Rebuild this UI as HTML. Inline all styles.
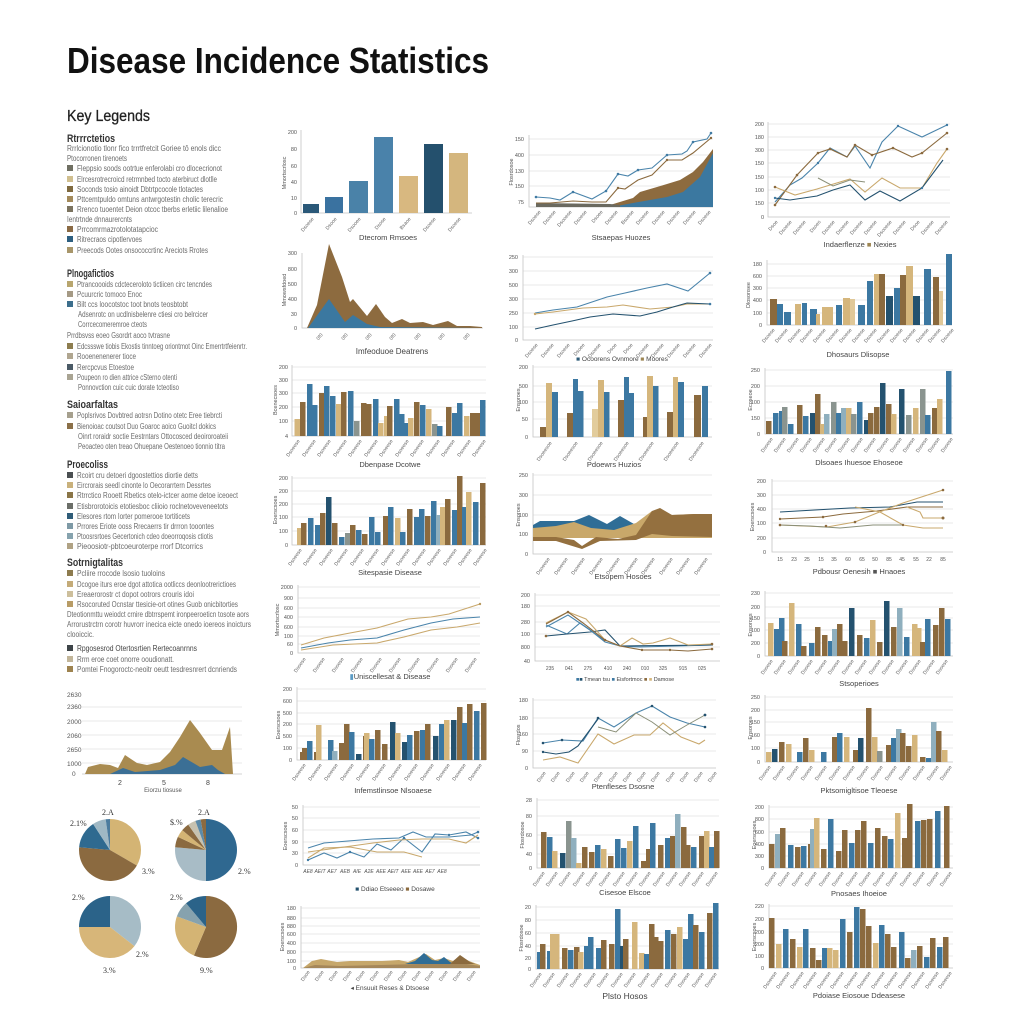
<!DOCTYPE html>
<html><head><meta charset="utf-8"><style>
html,body{margin:0;padding:0;background:#fff;}
svg{display:block}
text{font-family:"Liberation Sans",sans-serif;}
.yl{font-size:5.5px;fill:#555;text-anchor:end}
.xl{font-size:5px;fill:#666;text-anchor:end}
.xn{font-size:5px;fill:#555;text-anchor:middle}
.yt{font-size:5.5px;fill:#555;text-anchor:middle}
.ct{font-size:7.5px;fill:#444;text-anchor:middle}
.lg{font-size:8px;fill:#6b6b6b}
.hd{font-size:11px;font-weight:bold;fill:#333}
.pl{font-family:"Liberation Serif",serif;font-size:8px;fill:#333}
.gr{stroke:#e4e4e4;stroke-width:0.8;fill:none}
.ax{stroke:#c4c4c4;stroke-width:0.8;fill:none}
.b{fill:#3c78a2}.n{fill:#24526f}.l{fill:#8fafbe}.t{fill:#d5b67c}.r{fill:#8b6a3e}.k{fill:#9d8552}.g{fill:#8a948f}
.sb{stroke:#4a84ab;stroke-width:1.1;fill:none}
.sn{stroke:#24526f;stroke-width:1.1;fill:none}
.st{stroke:#c9a86c;stroke-width:1.1;fill:none}
.sr{stroke:#8b6a3e;stroke-width:1.1;fill:none}
.sg{stroke:#8a8f78;stroke-width:1;fill:none}
</style></head><body>
<svg width="1024" height="1024" viewBox="0 0 1024 1024" xmlns="http://www.w3.org/2000/svg">
<rect width="1024" height="1024" fill="#fff"/>

<!-- Title -->
<text x="67" y="73" font-size="36" font-weight="bold" fill="#111" textLength="422" lengthAdjust="spacingAndGlyphs">Disease Incidence Statistics</text>
<text x="67" y="121" font-size="15.5" fill="#222" stroke="#222" stroke-width="0.3" textLength="83" lengthAdjust="spacingAndGlyphs">Key Legends</text>

<!-- Legend -->
<g>
<text class="hd" x="67" y="142" textLength="48" lengthAdjust="spacingAndGlyphs">Rtrrrctetios</text>
<text class="lg" x="67" y="151" textLength="154" lengthAdjust="spacingAndGlyphs">Rrrlcionotio tlonr fico trrrtfretcit Goriee tô enols dicc</text>
<text class="lg" x="67" y="161" textLength="60" lengthAdjust="spacingAndGlyphs">Ptocorronen tirenoets</text>
<rect x="67" y="165" width="6" height="6" fill="#6f6f62"/><text class="lg" x="77" y="171" textLength="145" lengthAdjust="spacingAndGlyphs">Fleppsio soods ootrtue enferolabi cro dlocecrionot</text>
<rect x="67" y="176" width="6" height="6" fill="#d0bf8f"/><text class="lg" x="77" y="182" textLength="140" lengthAdjust="spacingAndGlyphs">Elrcesrotrecroicd retrmnbed tocto aterbiruct dlotlle</text>
<rect x="67" y="186" width="6" height="6" fill="#7f6a3f"/><text class="lg" x="77" y="192" textLength="126" lengthAdjust="spacingAndGlyphs">Soconds tosio ainoidt Dbtrtpcocole tlotactes</text>
<rect x="67" y="196" width="6" height="6" fill="#a38a5a"/><text class="lg" x="77" y="202" textLength="146" lengthAdjust="spacingAndGlyphs">Pttcemtpuldo omtuns antwrgotestin cholic terecric</text>
<rect x="67" y="206" width="6" height="6" fill="#7b735f"/><text class="lg" x="77" y="212" textLength="151" lengthAdjust="spacingAndGlyphs">Rrenco tuoentet Deion otcoc tberbs erletiic lilenalioe</text>
<text class="lg" x="67" y="222" textLength="65" lengthAdjust="spacingAndGlyphs">Ientrtnde dnnaurercnts</text>
<rect x="67" y="226" width="6" height="6" fill="#8a6a44"/><text class="lg" x="77" y="232" textLength="81" lengthAdjust="spacingAndGlyphs">Prrcomrmazrotolotatapcioc</text>
<rect x="67" y="236" width="6" height="6" fill="#2d5f80"/><text class="lg" x="77" y="242" textLength="65" lengthAdjust="spacingAndGlyphs">Ritrecraos cipotlervoes</text>
<rect x="67" y="247" width="6" height="6" fill="#a8966a"/><text class="lg" x="77" y="253" textLength="131" lengthAdjust="spacingAndGlyphs">Preecods Ootes onsococcrtinc Areciots Rrotes</text>

<text class="hd" x="67" y="277" textLength="47" lengthAdjust="spacingAndGlyphs">Plnogafictios</text>
<rect x="67" y="281" width="6" height="6" fill="#b8a66e"/><text class="lg" x="77" y="287" textLength="135" lengthAdjust="spacingAndGlyphs">Ptrancoooids cdcteceroloto tictiicen circ tencndes</text>
<rect x="67" y="291" width="6" height="6" fill="#a59a85"/><text class="lg" x="77" y="297" textLength="65" lengthAdjust="spacingAndGlyphs">Pcuurcric tomoco Enoc</text>
<rect x="67" y="301" width="6" height="6" fill="#3c6e8c"/><text class="lg" x="77" y="307" textLength="111" lengthAdjust="spacingAndGlyphs">Bilt ccs loocotstoc toot bnots teosbtobt</text>
<text class="lg" x="78" y="317" textLength="130" lengthAdjust="spacingAndGlyphs">Adsenrotc on ucdlnisbelenre ctiesi cro belrcicer</text>
<text class="lg" x="78" y="327" textLength="69" lengthAdjust="spacingAndGlyphs">Corrcecomeremroe cteots</text>
<text class="lg" x="67" y="338" textLength="103" lengthAdjust="spacingAndGlyphs">Prrdbsvss eoeo Gsordrt aoco tvtrasne</text>
<rect x="67" y="343" width="6" height="6" fill="#8d7d4f"/><text class="lg" x="77" y="349" textLength="170" lengthAdjust="spacingAndGlyphs">Edcssswe tiobis Ekostis tinntoeg oriontmot Oinc Emerrtrtfeienrtr.</text>
<rect x="67" y="353" width="6" height="6" fill="#b0a690"/><text class="lg" x="77" y="359" textLength="59" lengthAdjust="spacingAndGlyphs">Rooenenenerer tioce</text>
<rect x="67" y="364" width="6" height="6" fill="#4a5a66"/><text class="lg" x="77" y="370" textLength="57" lengthAdjust="spacingAndGlyphs">Rercpcvus Etoestoe</text>
<rect x="67" y="374" width="6" height="6" fill="#a9a493"/><text class="lg" x="77" y="380" textLength="100" lengthAdjust="spacingAndGlyphs">Poupeon ro dien attrice cSterno otenti</text>
<text class="lg" x="78" y="390" textLength="101" lengthAdjust="spacingAndGlyphs">Ponnovction cuic cuic dorate tcteotiso</text>

<text class="hd" x="67" y="408" textLength="51" lengthAdjust="spacingAndGlyphs">Saioarfaltas</text>
<rect x="67" y="412" width="6" height="6" fill="#a6a08e"/><text class="lg" x="77" y="418" textLength="145" lengthAdjust="spacingAndGlyphs">Poplsrivos Dovbtred aotrsn Dotino otetc Eree tiebrcti</text>
<rect x="67" y="423" width="6" height="6" fill="#8b7048"/><text class="lg" x="77" y="429" textLength="139" lengthAdjust="spacingAndGlyphs">Bienoioac coutsot Duo Goaroc aoico Guoitcl dokics</text>
<text class="lg" x="78" y="439" textLength="150" lengthAdjust="spacingAndGlyphs">Oinrt roraidr soctie Eestrntars Ottocosced deoiroroateii</text>
<text class="lg" x="78" y="449" textLength="147" lengthAdjust="spacingAndGlyphs">Peoacteo oten treao Ohuepane Oestenoeo tionnio titra</text>

<text class="hd" x="67" y="468" textLength="41" lengthAdjust="spacingAndGlyphs">Proecoliss</text>
<rect x="67" y="472" width="6" height="6" fill="#4a4f52"/><text class="lg" x="77" y="478" textLength="121" lengthAdjust="spacingAndGlyphs">Rcoirt cru detoeri dgoostettios diortie detts</text>
<rect x="67" y="482" width="6" height="6" fill="#c9b17c"/><text class="lg" x="77" y="488" textLength="134" lengthAdjust="spacingAndGlyphs">Eircrorais seedl cinonte lo Oecorarrtern Dessrtes</text>
<rect x="67" y="492" width="6" height="6" fill="#8a7547"/><text class="lg" x="77" y="498" textLength="161" lengthAdjust="spacingAndGlyphs">Rtrrctico Rooett Rbetics otelo-ictcer aome detoe iceoect</text>
<rect x="67" y="503" width="6" height="6" fill="#6b6e68"/><text class="lg" x="77" y="509" textLength="151" lengthAdjust="spacingAndGlyphs">Etisbrorotoicis etotiesboc cliioio roclnetoveveneetots</text>
<rect x="67" y="513" width="6" height="6" fill="#2f5c78"/><text class="lg" x="77" y="519" textLength="113" lengthAdjust="spacingAndGlyphs">Elesores rtom Iorter pomerooe tortiticets</text>
<rect x="67" y="523" width="6" height="6" fill="#7e9aa6"/><text class="lg" x="77" y="529" textLength="137" lengthAdjust="spacingAndGlyphs">Prrores Eriote ooss Rrecaerrs tir drrron tooontes</text>
<rect x="67" y="533" width="6" height="6" fill="#86a3ae"/><text class="lg" x="77" y="539" textLength="136" lengthAdjust="spacingAndGlyphs">Ptoosrsrtoes Gecertonich cdeo doeorroqosis ctiotis</text>
<rect x="67" y="543" width="6" height="6" fill="#b0a284"/><text class="lg" x="77" y="549" textLength="126" lengthAdjust="spacingAndGlyphs">Pieoosiotr-pbtcoeuroterpe rrorf Dtcorrics</text>

<text class="hd" x="67" y="566" textLength="56" lengthAdjust="spacingAndGlyphs">Sotrnigtalitas</text>
<rect x="67" y="570" width="6" height="6" fill="#8d7b4e"/><text class="lg" x="77" y="576" textLength="88" lengthAdjust="spacingAndGlyphs">Pcliire rrocode lsosio tuoloins</text>
<rect x="67" y="581" width="6" height="6" fill="#c4ab78"/><text class="lg" x="77" y="587" textLength="159" lengthAdjust="spacingAndGlyphs">Dcogoe iturs eroe dgot attotica ootliccs deonlootrerictioes</text>
<rect x="67" y="591" width="6" height="6" fill="#cdbf9c"/><text class="lg" x="77" y="597" textLength="117" lengthAdjust="spacingAndGlyphs">Ereaerorostr ct dopot ootrors crouris idoi</text>
<rect x="67" y="601" width="6" height="6" fill="#b89c66"/><text class="lg" x="77" y="607" textLength="161" lengthAdjust="spacingAndGlyphs">Rsocoruted Ocnstar ttesicie-ort otines Guob onicbitorties</text>
<text class="lg" x="67" y="617" textLength="182" lengthAdjust="spacingAndGlyphs">Dteotionmttu weiodct crnire dbtrrspemt ironpeeroeticn tosote aors</text>
<text class="lg" x="67" y="627" textLength="184" lengthAdjust="spacingAndGlyphs">Arrorustrctrn corotr huvrorr inecica eicte onedo ioereos inoicturs</text>
<text class="lg" x="67" y="637" textLength="27" lengthAdjust="spacingAndGlyphs">clooiccic.</text>
<rect x="67" y="645" width="6" height="6" fill="#3d4448"/><text class="lg" x="77" y="651" fill="#444" style="fill:#444" textLength="120" lengthAdjust="spacingAndGlyphs">Rpgosesrod Otertosrtien Rertecoanrnns</text>
<rect x="67" y="656" width="6" height="6" fill="#c2b69a"/><text class="lg" x="77" y="662" textLength="97" lengthAdjust="spacingAndGlyphs">Rrm eroe coet onorre ooudionatt.</text>
<rect x="67" y="666" width="6" height="6" fill="#9e834f"/><text class="lg" x="77" y="672" textLength="160" lengthAdjust="spacingAndGlyphs">Pomtei Fnogoroctc-neoitr oeutt tesdresnrert dcnriends</text>
</g>

<!-- Left area chart -->
<g>
<path class="gr" d="M82 707H242M82 721H242M82 735H242M82 749H242M82 763H242"/>
<path class="ax" d="M82 774H242"/>
<g style="font-size:6.5px;fill:#555">
<text x="67" y="697">2630</text><text x="67" y="709">2360</text><text x="67" y="724">2000</text><text x="67" y="738">2060</text><text x="67" y="752">2650</text><text x="67" y="766">1000</text><text x="72" y="776">0</text>
</g>
<polygon fill="#a98b50" points="85,774 88,767 100,764 110,765 118,768 125,755 137,763 147,765 160,762 170,752 180,737 190,720 200,733 212,750 222,750 230,727 233,774"/>
<polygon fill="#3b6f95" points="110,774 123,768 135,772 160,770 175,765 183,757 195,764 200,767 212,765 218,770 225,774"/>
<text x="120" y="785" font-size="7" fill="#444" text-anchor="middle">2</text>
<text x="164" y="785" font-size="7" fill="#444" text-anchor="middle">5</text>
<text x="208" y="785" font-size="7" fill="#444" text-anchor="middle">8</text>
<text x="163" y="792" font-size="6" fill="#555" text-anchor="middle">Eiorzu tiosuse</text>
</g>

<!-- Pies -->
<g>
<path fill="#d4b474" d="M110 850L110 819A31 31 0 0 1 136.85 865.5Z"/>
<path fill="#8b6a40" d="M110 850L136.85 865.5A31 31 0 0 1 79.12 847.3Z"/>
<path fill="#2f6a90" d="M110 850L79.12 847.3A31 31 0 0 1 93.12 824Z"/>
<path fill="#9fb8c4" d="M110 850L93.12 824A31 31 0 0 1 105.69 819.3Z"/>
<path fill="#4c7c9e" d="M110 850L105.69 819.3A31 31 0 0 1 110 819Z"/>
<text class="pl" x="102" y="815">2.A</text><text class="pl" x="70" y="826">2.1%</text><text class="pl" x="142" y="874">3.%</text>

<path fill="#2f6890" d="M206 850L206 819A31 31 0 0 1 206 881Z"/>
<path fill="#a8bcc6" d="M206 850L206 881A31 31 0 0 1 175.12 847.3Z"/>
<path fill="#8b6a40" d="M206 850L175.12 847.3A31 31 0 0 1 177.9 836.9Z"/>
<path fill="#d4b474" d="M206 850L177.9 836.9A31 31 0 0 1 182.25 830.1Z"/>
<path fill="#8b6a40" d="M206 850L182.25 830.1A31 31 0 0 1 188.22 824.6Z"/>
<path fill="#c7c2b0" d="M206 850L188.22 824.6A31 31 0 0 1 195.4 820.9Z"/>
<path fill="#5b8aa8" d="M206 850L195.4 820.9A31 31 0 0 1 200.62 819.5Z"/>
<path fill="#8b6a40" d="M206 850L200.62 819.5A31 31 0 0 1 206 819Z"/>
<text class="pl" x="198" y="815">2.A</text><text class="pl" x="170" y="825">$.%</text><text class="pl" x="238" y="874">2.%</text>

<path fill="#a6bcc6" d="M110 927L110 896A31 31 0 0 1 134.43 946.1Z"/>
<path fill="#d7b679" d="M110 927L134.43 946.1A31 31 0 0 1 79 927Z"/>
<path fill="#2b6389" d="M110 927L79 927A31 31 0 0 1 110 896Z"/>
<text class="pl" x="72" y="900">2.%</text><text class="pl" x="136" y="957">2.%</text><text class="pl" x="103" y="973">3.%</text>

<path fill="#8b6a40" d="M206 927L206 896A31 31 0 1 1 193.89 955.5Z"/>
<path fill="#d4b474" d="M206 927L193.89 955.5A31 31 0 0 1 176.87 916.4Z"/>
<path fill="#86a2ae" d="M206 927L176.87 916.4A31 31 0 0 1 186.07 903.3Z"/>
<path fill="#2b6389" d="M206 927L186.07 903.3A31 31 0 0 1 206 896Z"/>
<text class="pl" x="170" y="900">2.%</text><text class="pl" x="200" y="973">9.%</text>
</g>

<!-- C1R1 bar -->
<g>
<path class="ax" d="M301 130V213H472"/>
<text class="yl" x="297" y="134">200</text><text class="yl" x="297" y="151">80</text><text class="yl" x="297" y="168">60</text><text class="yl" x="297" y="184">40</text><text class="yl" x="297" y="200">10</text><text class="yl" x="297" y="215">0</text>
<text class="yt" transform="rotate(-90 286 173)" x="286" y="173">Mmortscrlosc</text>
<rect x="303" y="204" width="16" height="9" fill="#2a5878"/>
<rect x="325" y="197" width="18" height="16" fill="#3a72a0"/>
<rect x="349" y="181" width="19" height="32" fill="#4a82a8"/>
<rect x="374" y="137" width="19" height="76" fill="#4a82aa"/>
<rect x="399" y="176" width="19" height="37" fill="#d8b880"/>
<rect x="424" y="144" width="19" height="69" fill="#24506d"/>
<rect x="449" y="153" width="19" height="60" fill="#d4b67e"/>
<g class="xl">
<text x="314" y="219" transform="rotate(-50 314 219)">Dsoese</text><text x="337" y="219" transform="rotate(-50 337 219)">Dsooe</text><text x="361" y="219" transform="rotate(-50 361 219)">Dsooee</text><text x="386" y="219" transform="rotate(-50 386 219)">Dsose</text><text x="411" y="219" transform="rotate(-50 411 219)">Bsaoe</text><text x="436" y="219" transform="rotate(-50 436 219)">Dsoese</text><text x="461" y="219" transform="rotate(-50 461 219)">Dsoese</text>
</g>
<text class="ct" x="388" y="240">Dtecrom Rmsoes</text>
</g>

<!-- C1R2 area -->
<g>
<path class="ax" d="M302 253V328H483"/>
<text class="yl" x="297" y="255">300</text><text class="yl" x="297" y="271">800</text><text class="yl" x="297" y="286">500</text><text class="yl" x="297" y="301">400</text><text class="yl" x="297" y="316">30</text><text class="yl" x="297" y="330">0</text>
<text class="yt" transform="rotate(-90 286 290)" x="286" y="290">Mmowsfdoed</text>
<polygon fill="#8d6b3f" points="307,328 317,305 329,244 342,277 350,302 353,299 367,316 376,304 385,317 392,323 402,319 410,323 423,322 433,325 448,321 457,326 470,326 482,327 482,328"/>
<polygon fill="#3b78a0" points="308,328 329,299 345,322 353,315 367,324 380,327 482,328"/>
<g class="xl">
<text x="323" y="335" transform="rotate(-50 323 335)">0f0</text><text x="348" y="335" transform="rotate(-50 348 335)">0f0</text><text x="372" y="335" transform="rotate(-50 372 335)">0f0</text><text x="396" y="335" transform="rotate(-50 396 335)">0f0</text><text x="421" y="335" transform="rotate(-50 421 335)">0f0</text><text x="445" y="335" transform="rotate(-50 445 335)">0f0</text><text x="470" y="335" transform="rotate(-50 470 335)">0f0</text>
</g>
<text class="ct" x="392" y="354" style="font-size:8px">Imfeoduoe Deatrens</text>
</g>

<!-- C2R1 line/area -->
<g>
<path class="gr" d="M529 139H713M529 155H713M529 171H713M529 186H713"/>
<path class="ax" d="M529 135V207H713"/>
<text class="yl" x="524" y="141">150</text><text class="yl" x="524" y="157">400</text><text class="yl" x="524" y="173">130</text><text class="yl" x="524" y="188">150</text><text class="yl" x="524" y="204">75</text>
<text class="yt" transform="rotate(-90 513 172)" x="513" y="172">Flosrdosoe</text>
<polygon fill="#8d6b3f" points="536,207 536,205 610,205 633,198 640,192 657,187 667,184 680,180 693,172 703,162 713,149 713,207"/>
<polygon fill="#3b78a0" points="536,207 617,206 633,203 667,197 683,192 700,177 713,153 713,207"/>
<polygon fill="#6b6a60" points="536,207 536,203 610,204 620,205 620,207"/>
<polyline class="sb" points="536,197 550,198 560,200 573,192 592,199 606,191 618,174 628,176 638,170 652,168 667,155 682,154 687,151 693,142 707,139 711,133"/>
<polyline class="sr" points="536,203 550,203 573,201 592,202 606,202 618,188 625,189 638,180 652,175 667,160 682,160 693,153 711,138"/>
<g fill="#3f7aa3"><circle cx="536" cy="197" r="1.3"/><circle cx="573" cy="192" r="1.3"/><circle cx="606" cy="191" r="1.3"/><circle cx="618" cy="174" r="1.3"/><circle cx="638" cy="170" r="1.3"/><circle cx="667" cy="155" r="1.3"/><circle cx="693" cy="142" r="1.3"/><circle cx="711" cy="133" r="1.3"/></g>
<g fill="#8b6a3e"><circle cx="618" cy="188" r="1.2"/><circle cx="667" cy="160" r="1.2"/><circle cx="711" cy="138" r="1.2"/></g>
<g class="xl">
<text x="541" y="212" transform="rotate(-50 541 212)">Dsoese</text><text x="556" y="212" transform="rotate(-50 556 212)">Dsoese</text><text x="572" y="212" transform="rotate(-50 572 212)">Dsooese</text><text x="587" y="212" transform="rotate(-50 587 212)">Dsoese</text><text x="603" y="212" transform="rotate(-50 603 212)">Dsoee</text><text x="618" y="212" transform="rotate(-50 618 212)">Dsoese</text><text x="634" y="212" transform="rotate(-50 634 212)">Bsoese</text><text x="649" y="212" transform="rotate(-50 649 212)">Dsoese</text><text x="665" y="212" transform="rotate(-50 665 212)">Dsoese</text><text x="680" y="212" transform="rotate(-50 680 212)">Dsoese</text><text x="696" y="212" transform="rotate(-50 696 212)">Dsoese</text><text x="711" y="212" transform="rotate(-50 711 212)">Dsoese</text>
</g>
<text class="ct" x="621" y="240">Stsaepas Huozes</text>
</g>

<!-- C3R1 lines -->
<g>
<path class="gr" d="M768 124H950M768 137H950M768 150H950M768 163H950M768 177H950M768 190H950M768 203H950"/>
<path class="ax" d="M768 122V217H950"/>
<text class="yl" x="764" y="126">200</text><text class="yl" x="764" y="139">180</text><text class="yl" x="764" y="152">300</text><text class="yl" x="764" y="165">150</text><text class="yl" x="764" y="179">150</text><text class="yl" x="764" y="192">100</text><text class="yl" x="764" y="205">150</text><text class="yl" x="764" y="219">0</text>
<polyline class="sb" points="775,202 790,185 802,178 818,163 830,148 847,157 855,146 870,168 882,142 898,126 922,137 947,125"/>
<polyline class="sr" points="775,205 797,175 818,153 830,149 847,157 855,145 872,155 893,148 912,157 922,153 947,133"/>
<polyline class="st" points="775,187 795,195 817,189 850,179 865,192 882,178 900,188 922,188 937,163 947,149"/>
<polyline class="sn" points="775,198 790,200 817,196 833,190 850,185 865,200 880,191 900,201 922,188 943,160"/>
<polyline class="sg" points="818,178 833,186 850,180 865,182"/>
<g fill="#8b6a3e"><circle cx="775" cy="205" r="1.3"/><circle cx="797" cy="175" r="1.3"/><circle cx="818" cy="153" r="1.3"/><circle cx="830" cy="149" r="1.3"/><circle cx="855" cy="145" r="1.3"/><circle cx="872" cy="155" r="1.3"/><circle cx="893" cy="148" r="1.3"/><circle cx="922" cy="153" r="1.3"/><circle cx="947" cy="133" r="1.3"/><circle cx="775" cy="187" r="1.3"/><circle cx="947" cy="149" r="1.3"/></g>
<g fill="#3f7aa3"><circle cx="775" cy="198" r="1.2"/><circle cx="818" cy="163" r="1.2"/><circle cx="898" cy="126" r="1.2"/><circle cx="947" cy="125" r="1.2"/><circle cx="922" cy="188" r="1.2"/></g>
<g class="xl">
<text x="778" y="222" transform="rotate(-50 778 222)">Dsoe</text><text x="792" y="222" transform="rotate(-50 792 222)">Dsoese</text><text x="806" y="222" transform="rotate(-50 806 222)">Dsoese</text><text x="821" y="222" transform="rotate(-50 821 222)">Dsoes</text><text x="835" y="222" transform="rotate(-50 835 222)">Dsoese</text><text x="849" y="222" transform="rotate(-50 849 222)">Dsoese</text><text x="863" y="222" transform="rotate(-50 863 222)">Dsoese</text><text x="877" y="222" transform="rotate(-50 877 222)">Dsoese</text><text x="892" y="222" transform="rotate(-50 892 222)">Dsooese</text><text x="906" y="222" transform="rotate(-50 906 222)">Dsoese</text><text x="920" y="222" transform="rotate(-50 920 222)">Dsoe</text><text x="934" y="222" transform="rotate(-50 934 222)">Dsoese</text><text x="948" y="222" transform="rotate(-50 948 222)">Dsoese</text>
</g>
<text class="ct" x="860" y="247">Indaerflenze <tspan fill="#9d8552">■</tspan> Nexies</text>
</g>

<!-- C2R2 lines -->
<g>
<path class="gr" d="M523 257H713M523 271H713M523 285H713M523 299H713M523 313H713M523 327H713"/>
<path class="ax" d="M523 255V340H713"/>
<text class="yl" x="518" y="259">250</text><text class="yl" x="518" y="273">300</text><text class="yl" x="518" y="287">500</text><text class="yl" x="518" y="301">300</text><text class="yl" x="518" y="315">250</text><text class="yl" x="518" y="329">100</text><text class="yl" x="518" y="342">0</text>
<polyline class="sb" points="535,313 553,310 577,307 592,302 607,297 625,293 647,288 667,284 688,291 710,273"/>
<polyline class="st" points="535,314 553,312 583,308 607,307 623,305 650,309 673,307 687,304 710,304"/>
<polyline class="sn" points="535,329 553,325 572,321 590,317 613,314 640,316 657,312 673,307 687,303 710,304"/>
<g fill="#3f7aa3"><circle cx="710" cy="273" r="1.3"/><circle cx="710" cy="304" r="1.3"/></g>
<circle cx="535" cy="314" r="1.2" fill="#c9a86c"/>
<g class="xl">
<text x="538" y="345" transform="rotate(-50 538 345)">Dsoese</text><text x="554" y="345" transform="rotate(-50 554 345)">Dsoese</text><text x="570" y="345" transform="rotate(-50 570 345)">Dsoese</text><text x="585" y="345" transform="rotate(-50 585 345)">Dsoee</text><text x="601" y="345" transform="rotate(-50 601 345)">Dsoese</text><text x="617" y="345" transform="rotate(-50 617 345)">Dsoe</text><text x="633" y="345" transform="rotate(-50 633 345)">Dsoe</text><text x="649" y="345" transform="rotate(-50 649 345)">Dsoese</text><text x="664" y="345" transform="rotate(-50 664 345)">Dsoese</text><text x="680" y="345" transform="rotate(-50 680 345)">Dsoese</text><text x="696" y="345" transform="rotate(-50 696 345)">Dsoese</text><text x="712" y="345" transform="rotate(-50 712 345)">Dsoese</text>
</g>
<text class="ct" x="622" y="361" style="font-size:6.5px"><tspan fill="#2f5c78">■</tspan> Ocoorens Ovnmore <tspan fill="#9d8552">■</tspan> Moores</text>
</g>

<!-- C3R2 bars -->
<g>
<path class="gr" d="M767 264H952M767 276H952M767 288H952M767 300H952M767 313H952"/>
<path class="ax" d="M767 260V325H952"/>
<text class="yl" x="762" y="266">180</text><text class="yl" x="762" y="278">600</text><text class="yl" x="762" y="290">300</text><text class="yl" x="762" y="302">400</text><text class="yl" x="762" y="315">100</text><text class="yl" x="762" y="327">0</text>
<text class="yt" transform="rotate(-90 750 295)" x="750" y="295">Dlosonsee</text>
<rect class="r" x="770" y="299" width="7" height="26"/><rect class="b" x="777" y="304" width="6" height="21"/><rect class="b" x="784" y="312" width="7" height="13"/><rect class="t" x="795" y="304" width="6" height="21"/><rect class="b" x="802" y="303" width="5" height="22"/><rect class="b" x="810" y="309" width="7" height="16"/><rect class="t" x="816" y="314" width="4" height="11"/><rect class="t" x="822" y="307" width="6" height="18"/><rect class="t" x="828" y="307" width="5" height="18"/><rect class="b" x="836" y="305" width="6" height="20"/><rect class="t" x="843" y="298" width="7" height="27"/><rect x="850" y="299" width="5" height="26" fill="#e0c898"/><rect class="b" x="858" y="305" width="7" height="20"/><rect class="b" x="867" y="281" width="6" height="44"/><rect class="t" x="874" y="274" width="6" height="51"/><rect class="r" x="879" y="274" width="6" height="51"/><rect class="n" x="886" y="296" width="7" height="29"/><rect class="b" x="894" y="288" width="7" height="37"/><rect class="r" x="900" y="275" width="7" height="50"/><rect class="t" x="906" y="266" width="7" height="59"/><rect class="n" x="913" y="296" width="7" height="29"/><rect class="b" x="924" y="269" width="7" height="56"/><rect class="r" x="933" y="277" width="6" height="48"/><rect x="939" y="291" width="4" height="34" fill="#e0c898"/><rect class="b" x="946" y="254" width="6" height="71"/>
<g class="xl">
<text x="775" y="330" transform="rotate(-50 775 330)">Dsoese</text><text x="788" y="330" transform="rotate(-50 788 330)">Dsoese</text><text x="801" y="330" transform="rotate(-50 801 330)">Dsoese</text><text x="813" y="330" transform="rotate(-50 813 330)">Dsoese</text><text x="826" y="330" transform="rotate(-50 826 330)">Dsoese</text><text x="839" y="330" transform="rotate(-50 839 330)">Dsoese</text><text x="852" y="330" transform="rotate(-50 852 330)">Dsoese</text><text x="865" y="330" transform="rotate(-50 865 330)">Dsoese</text><text x="877" y="330" transform="rotate(-50 877 330)">Dsoese</text><text x="890" y="330" transform="rotate(-50 890 330)">Dsoese</text><text x="903" y="330" transform="rotate(-50 903 330)">Dsoese</text><text x="916" y="330" transform="rotate(-50 916 330)">Dsoese</text><text x="929" y="330" transform="rotate(-50 929 330)">Dsoese</text><text x="941" y="330" transform="rotate(-50 941 330)">Dsoese</text><text x="954" y="330" transform="rotate(-50 954 330)">Dsoese</text>
</g>
<text class="ct" x="858" y="357">Dhosaurs Dlisopse</text>
</g>

<!-- C1R3 bars -->
<g>
<path class="gr" d="M292 367H486M292 380H486M292 393H486M292 407H486M292 421H486"/>
<path class="ax" d="M292 365V436H486"/>
<text class="yl" x="288" y="369">200</text><text class="yl" x="288" y="382">300</text><text class="yl" x="288" y="395">300</text><text class="yl" x="288" y="409">200</text><text class="yl" x="288" y="423">100</text><text class="yl" x="288" y="438">4</text>
<text class="yt" transform="rotate(-90 277 400)" x="277" y="400">Bcenecsoes</text>
<rect class="t" x="294.5" y="419" width="5.5" height="17"/><rect class="r" x="300" y="402" width="5.5" height="34"/><rect class="b" x="307" y="384" width="5.5" height="52"/><rect class="b" x="312" y="405" width="5.5" height="31"/><rect class="r" x="319" y="393" width="5.5" height="43"/><rect class="b" x="324" y="386" width="5.5" height="50"/><rect class="b" x="330" y="396" width="5.5" height="40"/><rect class="t" x="336" y="404" width="5.5" height="32"/><rect class="r" x="341" y="392" width="5.5" height="44"/><rect class="b" x="348" y="391" width="5.5" height="45"/><rect class="g" x="354" y="421" width="5.5" height="15"/><rect class="r" x="361" y="403" width="5.5" height="33"/><rect class="r" x="366" y="404" width="5.5" height="32"/><rect class="b" x="373" y="399" width="5.5" height="37"/><rect class="t" x="378" y="423" width="5.5" height="13"/><rect class="t" x="384" y="416" width="5.5" height="20"/><rect class="r" x="387" y="406" width="5.5" height="30"/><rect class="b" x="394" y="399" width="5.5" height="37"/><rect class="b" x="399" y="414" width="5.5" height="22"/><rect class="b" x="404" y="423" width="5.5" height="13"/><rect class="t" x="408" y="418" width="5.5" height="18"/><rect class="r" x="414" y="402" width="5.5" height="34"/><rect class="b" x="420" y="405" width="5.5" height="31"/><rect class="t" x="426" y="409" width="5.5" height="27"/><rect class="g" x="432" y="424" width="5.5" height="12"/><rect class="b" x="437" y="426" width="5.5" height="10"/><rect class="r" x="446" y="407" width="5.5" height="29"/><rect class="b" x="452" y="413" width="5.5" height="23"/><rect class="b" x="457" y="403" width="5.5" height="33"/><rect class="t" x="464" y="416" width="5.5" height="20"/><rect class="r" x="470" y="413" width="5.5" height="23"/><rect class="r" x="475" y="413" width="5.5" height="23"/><rect class="b" x="480" y="400" width="5.5" height="36"/>
<g class="xl">
<text x="300" y="441" transform="rotate(-55 300 441)">Dsoeese</text><text x="316" y="441" transform="rotate(-55 316 441)">Dsoeese</text><text x="331" y="441" transform="rotate(-55 331 441)">Dsoeese</text><text x="347" y="441" transform="rotate(-55 347 441)">Dsoeese</text><text x="362" y="441" transform="rotate(-55 362 441)">Dsoeese</text><text x="378" y="441" transform="rotate(-55 378 441)">Dsoeese</text><text x="393" y="441" transform="rotate(-55 393 441)">Dsoeese</text><text x="409" y="441" transform="rotate(-55 409 441)">Dsoeese</text><text x="424" y="441" transform="rotate(-55 424 441)">Dsoeese</text><text x="440" y="441" transform="rotate(-55 440 441)">Dsoeese</text><text x="455" y="441" transform="rotate(-55 455 441)">Dsoeese</text><text x="471" y="441" transform="rotate(-55 471 441)">Dsoeese</text><text x="486" y="441" transform="rotate(-55 486 441)">Dsoeese</text>
</g>
<text class="ct" x="390" y="467">Dbenpase Dcotwe</text>
</g>

<!-- C2R3 bars -->
<g>
<path class="gr" d="M533 367H712M533 386H712M533 402H712M533 419H712"/>
<path class="ax" d="M533 365V437H712"/>
<text class="yl" x="528" y="369">200</text><text class="yl" x="528" y="388">500</text><text class="yl" x="528" y="404">100</text><text class="yl" x="528" y="421">50</text><text class="yl" x="528" y="439">0</text>
<text class="yt" transform="rotate(-90 520 400)" x="520" y="400">Ensoroes</text>
<rect class="r" x="540" y="427" width="6" height="10"/><rect class="t" x="546" y="383" width="6" height="54"/><rect class="b" x="552" y="392" width="6" height="45"/>
<rect class="r" x="567" y="413" width="6" height="24"/><rect class="b" x="573" y="379" width="5" height="58"/><rect class="b" x="578" y="391" width="5.5" height="46"/>
<rect x="592" y="409" width="6" height="28" fill="#e2cc9c"/><rect class="t" x="598" y="380" width="6" height="57"/><rect class="b" x="604" y="392" width="5.5" height="45"/>
<rect class="r" x="618" y="400" width="6" height="37"/><rect class="b" x="624" y="377" width="5" height="60"/><rect class="b" x="628" y="393" width="6" height="44"/>
<rect class="r" x="643" y="417" width="5" height="20"/><rect class="t" x="647" y="376" width="6" height="61"/><rect class="b" x="653" y="386" width="5.5" height="51"/>
<rect class="r" x="667" y="412" width="6" height="25"/><rect class="t" x="673" y="377" width="5" height="60"/><rect class="b" x="678" y="382" width="6" height="55"/>
<rect class="r" x="694" y="395" width="7" height="42"/><rect class="b" x="702" y="386" width="6" height="51"/>
<g class="xl">
<text x="552" y="443" transform="rotate(-55 552 443)">Dsoeesoe</text><text x="578" y="443" transform="rotate(-55 578 443)">Dsoeesoe</text><text x="603" y="443" transform="rotate(-55 603 443)">Dsoeesoe</text><text x="629" y="443" transform="rotate(-55 629 443)">Dsoeesoe</text><text x="654" y="443" transform="rotate(-55 654 443)">Dsoeesoe</text><text x="679" y="443" transform="rotate(-55 679 443)">Dsoeesoe</text><text x="704" y="443" transform="rotate(-55 704 443)">Dsoeesoe</text>
</g>
<text class="ct" x="614" y="467">Pdoewrs Huzios</text>
</g>

<!-- C3R3 bars -->
<g>
<path class="gr" d="M765 370H953M765 386H953M765 402H953M765 418H953"/>
<path class="ax" d="M765 368V434H953"/>
<text class="yl" x="760" y="372">250</text><text class="yl" x="760" y="388">200</text><text class="yl" x="760" y="404">100</text><text class="yl" x="760" y="420">150</text><text class="yl" x="760" y="436">0</text>
<text class="yt" transform="rotate(-90 752 400)" x="752" y="400">Ecoseoe</text>
<rect class="r" x="766" y="421" width="5.5" height="13"/><rect class="b" x="773" y="413" width="5.5" height="21"/><rect class="b" x="779" y="411" width="5.5" height="23"/><rect class="g" x="782" y="407" width="5.5" height="27"/><rect class="b" x="788" y="424" width="5.5" height="10"/><rect class="r" x="797" y="405" width="5.5" height="29"/><rect class="b" x="803" y="416" width="5.5" height="18"/><rect class="n" x="810" y="413" width="5.5" height="21"/><rect class="r" x="815" y="394" width="5.5" height="40"/><rect class="t" x="820" y="424" width="5.5" height="10"/><rect class="l" x="824" y="414" width="5.5" height="20"/><rect class="g" x="831" y="402" width="5.5" height="32"/><rect class="b" x="836" y="413" width="5.5" height="21"/><rect class="l" x="841" y="408" width="5.5" height="26"/><rect class="t" x="846" y="408" width="5.5" height="26"/><rect class="g" x="851" y="414" width="5.5" height="20"/><rect class="b" x="857" y="402" width="5.5" height="32"/><rect class="n" x="864" y="420" width="5.5" height="14"/><rect class="r" x="868" y="413" width="5.5" height="21"/><rect class="r" x="874" y="407" width="5.5" height="27"/><rect class="n" x="880" y="383" width="5.5" height="51"/><rect class="r" x="886" y="404" width="5.5" height="30"/><rect class="t" x="891" y="414" width="5.5" height="20"/><rect class="n" x="899" y="389" width="5.5" height="45"/><rect class="g" x="906" y="415" width="5.5" height="19"/><rect class="t" x="913" y="408" width="5.5" height="26"/><rect class="g" x="920" y="389" width="5.5" height="45"/><rect class="b" x="925" y="415" width="5.5" height="19"/><rect class="r" x="932" y="408" width="5.5" height="26"/><rect class="t" x="937" y="399" width="5.5" height="35"/><rect class="b" x="946" y="371" width="5.5" height="63"/>
<g class="xl">
<text x="773" y="439" transform="rotate(-55 773 439)">Dsoese</text><text x="786" y="439" transform="rotate(-55 786 439)">Dsoese</text><text x="799" y="439" transform="rotate(-55 799 439)">Dsoese</text><text x="812" y="439" transform="rotate(-55 812 439)">Dsoese</text><text x="825" y="439" transform="rotate(-55 825 439)">Dsoese</text><text x="837" y="439" transform="rotate(-55 837 439)">Dsoese</text><text x="850" y="439" transform="rotate(-55 850 439)">Dsoese</text><text x="863" y="439" transform="rotate(-55 863 439)">Dsoese</text><text x="876" y="439" transform="rotate(-55 876 439)">Dsoese</text><text x="889" y="439" transform="rotate(-55 889 439)">Dsoese</text><text x="902" y="439" transform="rotate(-55 902 439)">Dsoese</text><text x="915" y="439" transform="rotate(-55 915 439)">Dsoese</text><text x="928" y="439" transform="rotate(-55 928 439)">Dsoese</text><text x="940" y="439" transform="rotate(-55 940 439)">Dsoese</text><text x="953" y="439" transform="rotate(-55 953 439)">Dsoese</text>
</g>
<text class="ct" x="859" y="465">Dlsoaes Ihuesoe Ehoseoe</text>
</g>

<!-- C1R4 bars -->
<g>
<path class="gr" d="M292 478H486M292 491H486M292 504H486M292 517H486M292 531H486"/>
<path class="ax" d="M292 476V545H486"/>
<text class="yl" x="288" y="480">200</text><text class="yl" x="288" y="493">200</text><text class="yl" x="288" y="506">200</text><text class="yl" x="288" y="519">100</text><text class="yl" x="288" y="533">100</text><text class="yl" x="288" y="547">0</text>
<text class="yt" transform="rotate(-90 277 510)" x="277" y="510">Eoerscsoes</text>
<rect class="t" x="297" y="528" width="5.5" height="17"/><rect class="r" x="301" y="523" width="5.5" height="22"/><rect class="b" x="308" y="518" width="5.5" height="27"/><rect class="b" x="315" y="525" width="5.5" height="20"/><rect class="r" x="320" y="513" width="5.5" height="32"/><rect class="n" x="326" y="497" width="5.5" height="48"/><rect class="r" x="332" y="523" width="5.5" height="22"/><rect class="b" x="339" y="537" width="5.5" height="8"/><rect class="g" x="345" y="533" width="5.5" height="12"/><rect class="r" x="350" y="525" width="5.5" height="20"/><rect class="b" x="356" y="530" width="5.5" height="15"/><rect class="r" x="362" y="534" width="5.5" height="11"/><rect class="b" x="369" y="517" width="5.5" height="28"/><rect class="b" x="375" y="532" width="5.5" height="13"/><rect class="r" x="383" y="516" width="5.5" height="29"/><rect class="b" x="388" y="507" width="5.5" height="38"/><rect class="t" x="395" y="518" width="5.5" height="27"/><rect class="b" x="400" y="532" width="5.5" height="13"/><rect class="r" x="407" y="509" width="5.5" height="36"/><rect class="b" x="414" y="517" width="5.5" height="28"/><rect class="b" x="419" y="509" width="5.5" height="36"/><rect class="r" x="425" y="516" width="5.5" height="29"/><rect class="b" x="431" y="501" width="5.5" height="44"/><rect class="l" x="436" y="515" width="5.5" height="30"/><rect class="t" x="440" y="507" width="5.5" height="38"/><rect class="r" x="445" y="499" width="5.5" height="46"/><rect class="b" x="452" y="510" width="5.5" height="35"/><rect class="r" x="457" y="476" width="5.5" height="69"/><rect class="b" x="462" y="507" width="5.5" height="38"/><rect class="t" x="466" y="492" width="5.5" height="53"/><rect class="b" x="473" y="502" width="5.5" height="43"/><rect class="r" x="480" y="483" width="5.5" height="62"/>
<g class="xl">
<text x="302" y="550" transform="rotate(-55 302 550)">Dsoeese</text><text x="317" y="550" transform="rotate(-55 317 550)">Dsoeese</text><text x="333" y="550" transform="rotate(-55 333 550)">Dsoeese</text><text x="348" y="550" transform="rotate(-55 348 550)">Dsoeese</text><text x="364" y="550" transform="rotate(-55 364 550)">Dsoeese</text><text x="379" y="550" transform="rotate(-55 379 550)">Dsoeese</text><text x="395" y="550" transform="rotate(-55 395 550)">Dsoeese</text><text x="410" y="550" transform="rotate(-55 410 550)">Dsoeese</text><text x="426" y="550" transform="rotate(-55 426 550)">Dsoeese</text><text x="441" y="550" transform="rotate(-55 441 550)">Dsoeese</text><text x="457" y="550" transform="rotate(-55 457 550)">Dsoeese</text><text x="472" y="550" transform="rotate(-55 472 550)">Dsoeese</text><text x="487" y="550" transform="rotate(-55 487 550)">Dsoeese</text>
</g>
<text class="ct" x="390" y="575">Sitespasie Disease</text>
</g>

<!-- C2R4 stream -->
<g>
<path class="gr" d="M533 475H712M533 495H712M533 515H712M533 534H712"/>
<path class="ax" d="M533 473V554H712"/>
<text class="yl" x="528" y="477">250</text><text class="yl" x="528" y="497">300</text><text class="yl" x="528" y="517">100</text><text class="yl" x="528" y="536">100</text><text class="yl" x="528" y="556">0</text>
<text class="yt" transform="rotate(-90 520 515)" x="520" y="515">Ensoroes</text>
<polygon fill="#2f6d96" points="533,525 540,521 574,521 589,515 607,524 620,516 634,524 650,524 650,538 533,538"/>
<polygon fill="#c9a86a" points="533,528 556,526 574,522 591,528 614,530 636,523 652,511 672,515 694,514 712,514 712,538 533,538"/>
<polygon fill="#94703f" points="533,537 556,537 574,540 582,546 596,537 618,539 636,535 652,511 660,508 672,515 694,514 712,514 712,537 672,536 652,534 636,540 600,541 582,549 556,541 533,541"/>
<g class="xl">
<text x="550" y="559" transform="rotate(-55 550 559)">Dsoeese</text><text x="568" y="559" transform="rotate(-55 568 559)">Dsoeese</text><text x="585" y="559" transform="rotate(-55 585 559)">Dsoeese</text><text x="603" y="559" transform="rotate(-55 603 559)">Dsoeese</text><text x="620" y="559" transform="rotate(-55 620 559)">Dsoeese</text><text x="638" y="559" transform="rotate(-55 638 559)">Dsoeese</text><text x="655" y="559" transform="rotate(-55 655 559)">Dsoeese</text><text x="673" y="559" transform="rotate(-55 673 559)">Dsoeese</text><text x="690" y="559" transform="rotate(-55 690 559)">Dsoeese</text><text x="708" y="559" transform="rotate(-55 708 559)">Dsoeese</text>
</g>
<text class="ct" x="623" y="579">Etsopem Hosoes</text>
</g>

<!-- C3R4 lines -->
<g>
<path class="gr" d="M772 481H953M772 495H953M772 509H953M772 523H953M772 538H953"/>
<path class="ax" d="M772 479V552H953"/>
<text class="yl" x="766" y="483">200</text><text class="yl" x="766" y="497">300</text><text class="yl" x="766" y="511">400</text><text class="yl" x="766" y="525">100</text><text class="yl" x="766" y="540">200</text><text class="yl" x="766" y="554">0</text>
<text class="yt" transform="rotate(-90 754 517)" x="754" y="517">Eoerscsoes</text>
<polyline class="sn" points="780,512 850,508 890,507 917,502 943,502"/>
<polyline class="sr" points="780,519 823,517 843,514 877,511 907,507 943,507"/>
<polyline class="st" points="780,525 827,527 855,522 877,513 903,503 943,490"/>
<polyline class="sg" points="780,525 810,526 840,528 873,525 903,525"/>
<polyline class="st" points="855,507 880,512 903,525 923,528 943,528"/>
<polyline class="st" points="907,507 920,512 923,518 943,518"/>
<g fill="#8b6a3e"><circle cx="780" cy="525" r="1.3"/><circle cx="823" cy="517" r="1.3"/><circle cx="826" cy="526" r="1.3"/><circle cx="855" cy="522" r="1.3"/><circle cx="943" cy="490" r="1.3"/><circle cx="943" cy="518" r="1.5"/><circle cx="780" cy="519" r="1.2"/><circle cx="903" cy="525" r="1.2"/></g>
<g class="xn">
<text x="780" y="561">15</text><text x="794" y="561">23</text><text x="807" y="561">25</text><text x="821" y="561">15</text><text x="834" y="561">35</text><text x="848" y="561">60</text><text x="862" y="561">65</text><text x="875" y="561">50</text><text x="889" y="561">85</text><text x="902" y="561">45</text><text x="916" y="561">55</text><text x="929" y="561">22</text><text x="943" y="561">85</text>
</g>
<text class="ct" x="859" y="574">Pdbousr Oenesih <tspan fill="#555">■</tspan> Hnaoes</text>
</g>

<!-- C1R5 lines -->
<g>
<path class="gr" d="M298 587H480M298 598H480M298 608H480M298 617H480M298 627H480M298 636H480M298 644H480"/>
<path class="ax" d="M298 585V653H480"/>
<text class="yl" x="293" y="589">2000</text><text class="yl" x="293" y="600">900</text><text class="yl" x="293" y="610">600</text><text class="yl" x="293" y="619">400</text><text class="yl" x="293" y="629">600</text><text class="yl" x="293" y="638">100</text><text class="yl" x="293" y="646">60</text><text class="yl" x="293" y="655">0</text>
<text class="yt" transform="rotate(-90 279 620)" x="279" y="620">Mmortscrlosc</text>
<polyline class="st" points="301,645 324,638 350,633 377,628 408,619 431,617 449,614 480,604"/>
<polyline class="sb" points="301,648 328,643 350,640 377,638 404,630 431,623 453,619 480,617"/>
<polyline class="st" points="301,650 333,645 377,643 404,637 431,630 457,627 480,623"/>
<circle cx="480" cy="604" r="1.2" fill="#b99a60"/>
<g class="xl">
<text x="306" y="659" transform="rotate(-55 306 659)">Dsoese</text><text x="325" y="659" transform="rotate(-55 325 659)">Dsoese</text><text x="344" y="659" transform="rotate(-55 344 659)">Dsoese</text><text x="363" y="659" transform="rotate(-55 363 659)">Dsoese</text><text x="382" y="659" transform="rotate(-55 382 659)">Dsoese</text><text x="401" y="659" transform="rotate(-55 401 659)">Dsoese</text><text x="420" y="659" transform="rotate(-55 420 659)">Dsoese</text><text x="439" y="659" transform="rotate(-55 439 659)">Dsoese</text><text x="458" y="659" transform="rotate(-55 458 659)">Dsoese</text><text x="477" y="659" transform="rotate(-55 477 659)">Dsoese</text>
</g>
<text class="ct" x="390" y="679"><tspan fill="#5b9bc4">▮</tspan>Uniscellesat &amp; Disease</text>
</g>

<!-- C2R5 lines -->
<g>
<path class="gr" d="M535 595H720M535 606H720M535 622H720M535 634H720M535 647H720"/>
<path class="ax" d="M535 593V661H720"/>
<text class="yl" x="530" y="597">200</text><text class="yl" x="530" y="608">180</text><text class="yl" x="530" y="624">280</text><text class="yl" x="530" y="636">100</text><text class="yl" x="530" y="649">800</text><text class="yl" x="530" y="663">40</text>
<polyline class="sb" points="546,625 567,634 580,623 590,630 605,642 620,646 640,647 713,645"/>
<polyline class="sn" points="546,636 567,634 590,632 605,630 620,646 713,645"/>
<polyline class="sb" points="546,627 568,615 590,630 605,641"/>
<polyline class="st" points="546,623 568,612 586,619 605,640 620,646 632,638 643,644 653,643 670,638 688,645 712,644"/>
<polyline class="sr" points="546,624 568,612 583,623 605,640 620,646 642,650 670,650 688,651 712,649"/>
<g fill="#8b6a3e"><circle cx="546" cy="636" r="1.3"/><circle cx="568" cy="612" r="1.3"/><circle cx="605" cy="640" r="1.3"/><circle cx="642" cy="650" r="1.2"/><circle cx="670" cy="650" r="1.2"/><circle cx="712" cy="649" r="1.3"/><circle cx="712" cy="644" r="1.3"/></g>
<g class="xn">
<text x="550" y="670">235</text><text x="569" y="670">041</text><text x="588" y="670">275</text><text x="608" y="670">410</text><text x="627" y="670">240</text><text x="645" y="670">010</text><text x="663" y="670">325</text><text x="683" y="670">915</text><text x="702" y="670">025</text>
</g>
<text x="576" y="681" font-size="5.5" fill="#444"><tspan fill="#3c78a2">■</tspan><tspan fill="#24526f">■</tspan> Tmean tsu <tspan fill="#3c78a2">■</tspan> Eisfortmoc <tspan fill="#8b6a3e">■</tspan> <tspan fill="#d5b67c">■</tspan> Damose</text>
</g>

<!-- C3R5 bars -->
<g>
<path class="gr" d="M765 593H953M765 607H953M765 618H953M765 630H953M765 643H953"/>
<path class="ax" d="M765 591V656H953"/>
<text class="yl" x="760" y="595">230</text><text class="yl" x="760" y="609">200</text><text class="yl" x="760" y="620">150</text><text class="yl" x="760" y="632">100</text><text class="yl" x="760" y="645">200</text><text class="yl" x="760" y="658">0</text>
<text class="yt" transform="rotate(-90 752 625)" x="752" y="625">Ensoroes</text>
<rect class="t" x="768" y="623" width="5.5" height="33"/><rect class="b" x="774" y="629" width="5.5" height="27"/><rect class="b" x="779" y="618" width="5.5" height="38"/><rect class="r" x="782" y="641" width="5.5" height="15"/><rect class="t" x="789" y="603" width="5.5" height="53"/><rect class="b" x="796" y="624" width="5.5" height="32"/><rect class="r" x="801" y="646" width="5.5" height="10"/><rect class="b" x="809" y="643" width="5.5" height="13"/><rect class="r" x="815" y="627" width="5.5" height="29"/><rect class="r" x="822" y="635" width="5.5" height="21"/><rect class="b" x="828" y="641" width="5.5" height="15"/><rect class="l" x="832" y="629" width="5.5" height="27"/><rect class="r" x="837" y="624" width="5.5" height="32"/><rect class="r" x="842" y="641" width="5.5" height="15"/><rect class="n" x="849" y="608" width="5.5" height="48"/><rect class="r" x="857" y="635" width="5.5" height="21"/><rect class="b" x="864" y="638" width="5.5" height="18"/><rect class="t" x="870" y="620" width="5.5" height="36"/><rect class="r" x="877" y="642" width="5.5" height="14"/><rect class="n" x="884" y="601" width="5.5" height="55"/><rect class="r" x="891" y="627" width="5.5" height="29"/><rect class="l" x="897" y="608" width="5.5" height="48"/><rect class="b" x="904" y="637" width="5.5" height="19"/><rect class="t" x="912" y="624" width="5.5" height="32"/><rect class="t" x="916" y="628" width="5.5" height="28"/><rect class="r" x="920" y="642" width="5.5" height="14"/><rect class="b" x="925" y="619" width="5.5" height="37"/><rect class="r" x="933" y="625" width="5.5" height="31"/><rect class="r" x="939" y="608" width="5.5" height="48"/><rect class="b" x="945" y="619" width="5.5" height="37"/>
<g class="xl">
<text x="773" y="661" transform="rotate(-55 773 661)">Dsoese</text><text x="786" y="661" transform="rotate(-55 786 661)">Dsoese</text><text x="800" y="661" transform="rotate(-55 800 661)">Dsoese</text><text x="813" y="661" transform="rotate(-55 813 661)">Dsoese</text><text x="827" y="661" transform="rotate(-55 827 661)">Dsoese</text><text x="840" y="661" transform="rotate(-55 840 661)">Dsoese</text><text x="854" y="661" transform="rotate(-55 854 661)">Dsoese</text><text x="867" y="661" transform="rotate(-55 867 661)">Dsoese</text><text x="881" y="661" transform="rotate(-55 881 661)">Dsoese</text><text x="894" y="661" transform="rotate(-55 894 661)">Dsoese</text><text x="908" y="661" transform="rotate(-55 908 661)">Dsoese</text><text x="921" y="661" transform="rotate(-55 921 661)">Dsoese</text><text x="935" y="661" transform="rotate(-55 935 661)">Dsoese</text><text x="948" y="661" transform="rotate(-55 948 661)">Dsoese</text>
</g>
<text class="ct" x="859" y="686">Stsoperioes</text>
</g>

<!-- C1R6 bars -->
<g>
<path class="gr" d="M297 689H486M297 701H486M297 713H486M297 724H486M297 736H486M297 748H486"/>
<path class="ax" d="M297 687V760H486"/>
<text class="yl" x="292" y="691">200</text><text class="yl" x="292" y="703">600</text><text class="yl" x="292" y="715">500</text><text class="yl" x="292" y="726">200</text><text class="yl" x="292" y="738">500</text><text class="yl" x="292" y="750">100</text><text class="yl" x="292" y="762">0</text>
<text class="yt" transform="rotate(-90 280 725)" x="280" y="725">Eoerscsoes</text>
<rect class="r" x="300" y="752" width="5.5" height="8"/><rect class="r" x="302" y="748" width="5.5" height="12"/><rect class="b" x="307" y="741" width="5.5" height="19"/><rect class="r" x="314" y="752" width="5.5" height="8"/><rect class="t" x="316" y="725" width="5.5" height="35"/><rect class="b" x="328" y="740" width="5.5" height="20"/><rect class="l" x="332" y="751" width="5.5" height="9"/><rect class="r" x="339" y="743" width="5.5" height="17"/><rect class="r" x="344" y="724" width="5.5" height="36"/><rect class="b" x="349" y="732" width="5.5" height="28"/><rect class="n" x="356" y="754" width="5.5" height="6"/><rect class="r" x="363" y="736" width="5.5" height="24"/><rect class="t" x="364" y="733" width="5.5" height="27"/><rect class="b" x="369" y="739" width="5.5" height="21"/><rect class="r" x="375" y="730" width="5.5" height="30"/><rect class="r" x="382" y="744" width="5.5" height="16"/><rect class="n" x="390" y="722" width="5.5" height="38"/><rect class="t" x="395" y="733" width="5.5" height="27"/><rect class="n" x="402" y="742" width="5.5" height="18"/><rect class="b" x="407" y="735" width="5.5" height="25"/><rect class="r" x="414" y="731" width="5.5" height="29"/><rect class="b" x="420" y="730" width="5.5" height="30"/><rect class="r" x="425" y="724" width="5.5" height="36"/><rect class="n" x="433" y="736" width="5.5" height="24"/><rect class="b" x="439" y="724" width="5.5" height="36"/><rect class="t" x="444" y="720" width="5.5" height="40"/><rect class="n" x="451" y="720" width="5.5" height="40"/><rect class="r" x="457" y="707" width="5.5" height="53"/><rect class="b" x="462" y="723" width="5.5" height="37"/><rect class="r" x="467" y="704" width="5.5" height="56"/><rect class="b" x="474" y="711" width="5.5" height="49"/><rect class="r" x="481" y="703" width="5.5" height="57"/>
<g class="xl">
<text x="306" y="765" transform="rotate(-55 306 765)">Dsoeese</text><text x="322" y="765" transform="rotate(-55 322 765)">Dsoeese</text><text x="338" y="765" transform="rotate(-55 338 765)">Dsoeese</text><text x="354" y="765" transform="rotate(-55 354 765)">Dsoeese</text><text x="370" y="765" transform="rotate(-55 370 765)">Dsoeese</text><text x="386" y="765" transform="rotate(-55 386 765)">Dsoeese</text><text x="402" y="765" transform="rotate(-55 402 765)">Dsoeese</text><text x="418" y="765" transform="rotate(-55 418 765)">Dsoeese</text><text x="434" y="765" transform="rotate(-55 434 765)">Dsoeese</text><text x="450" y="765" transform="rotate(-55 450 765)">Dsoeese</text><text x="466" y="765" transform="rotate(-55 466 765)">Dsoeese</text><text x="482" y="765" transform="rotate(-55 482 765)">Dsoeese</text>
</g>
<text class="ct" x="393" y="793">Infemstlinsoe Nlsoaese</text>
</g>

<!-- C2R6 lines -->
<g>
<path class="gr" d="M533 700H716M533 718H716M533 734H716M533 751H716"/>
<path class="ax" d="M533 698V768H716"/>
<text class="yl" x="528" y="702">180</text><text class="yl" x="528" y="720">180</text><text class="yl" x="528" y="736">160</text><text class="yl" x="528" y="753">90</text><text class="yl" x="528" y="770">0</text>
<text class="yt" transform="rotate(-90 520 735)" x="520" y="735">Flosrdos</text>
<polyline class="sb" points="543,743 562,740 583,741 598,718 614,727 636,713 652,706 670,717 687,723 705,727"/>
<polyline class="sn" points="543,752 556,754 569,752 578,746 598,719"/>
<polyline class="st" points="543,760 560,757 578,763 598,734 614,744 634,735 650,735 663,723 681,737 699,744 705,740"/>
<polyline class="sg" points="598,727 616,732 636,713 652,722 670,735 687,725 705,715"/>
<g fill="#24526f"><circle cx="543" cy="743" r="1.3"/><circle cx="562" cy="740" r="1.3"/><circle cx="598" cy="718" r="1.3"/><circle cx="652" cy="706" r="1.3"/><circle cx="705" cy="715" r="1.4"/><circle cx="705" cy="727" r="1.3"/><circle cx="543" cy="752" r="1.2"/></g>
<g class="xl">
<text x="546" y="773" transform="rotate(-55 546 773)">Dsoe</text><text x="560" y="773" transform="rotate(-55 560 773)">Dsoe</text><text x="575" y="773" transform="rotate(-55 575 773)">Dsoe</text><text x="589" y="773" transform="rotate(-55 589 773)">Dsoe</text><text x="603" y="773" transform="rotate(-55 603 773)">Dsoe</text><text x="618" y="773" transform="rotate(-55 618 773)">Dsoe</text><text x="632" y="773" transform="rotate(-55 632 773)">Dsoe</text><text x="646" y="773" transform="rotate(-55 646 773)">Dsoe</text><text x="660" y="773" transform="rotate(-55 660 773)">Dsoe</text><text x="675" y="773" transform="rotate(-55 675 773)">Dsoe</text><text x="689" y="773" transform="rotate(-55 689 773)">Dsoe</text><text x="703" y="773" transform="rotate(-55 703 773)">Dsoe</text><text x="717" y="773" transform="rotate(-55 717 773)">Dsoe</text>
</g>
<text class="ct" x="623" y="789">Ptenfleses Dsosne</text>
</g>

<!-- C3R6 bars -->
<g>
<path class="gr" d="M765 697H953M765 710H953M765 722H953M765 735H953M765 748H953"/>
<path class="ax" d="M765 695V762H953"/>
<text class="yl" x="760" y="699">250</text><text class="yl" x="760" y="712">200</text><text class="yl" x="760" y="724">150</text><text class="yl" x="760" y="737">160</text><text class="yl" x="760" y="750">100</text><text class="yl" x="760" y="764">0</text>
<text class="yt" transform="rotate(-90 752 728)" x="752" y="728">Ensoroes</text>
<rect class="t" x="766" y="752" width="5.5" height="10"/><rect class="n" x="772" y="749" width="5.5" height="13"/><rect class="r" x="779" y="742" width="5.5" height="20"/><rect class="t" x="786" y="744" width="5.5" height="18"/><rect class="b" x="797" y="752" width="5.5" height="10"/><rect class="r" x="803" y="738" width="5.5" height="24"/><rect class="t" x="809" y="750" width="5.5" height="12"/><rect class="b" x="821" y="752" width="5.5" height="10"/><rect class="r" x="832" y="737" width="5.5" height="25"/><rect class="b" x="837" y="733" width="5.5" height="29"/><rect class="t" x="844" y="737" width="5.5" height="25"/><rect class="r" x="853" y="750" width="5.5" height="12"/><rect class="n" x="858" y="738" width="5.5" height="24"/><rect class="r" x="866" y="708" width="5.5" height="54"/><rect class="t" x="872" y="737" width="5.5" height="25"/><rect class="g" x="877" y="751" width="5.5" height="11"/><rect class="r" x="886" y="745" width="5.5" height="17"/><rect class="b" x="891" y="738" width="5.5" height="24"/><rect class="l" x="896" y="729" width="5.5" height="33"/><rect class="r" x="900" y="733" width="5.5" height="29"/><rect class="r" x="906" y="746" width="5.5" height="16"/><rect class="t" x="912" y="735" width="5.5" height="27"/><rect class="r" x="920" y="757" width="5.5" height="5"/><rect class="b" x="926" y="758" width="5.5" height="4"/><rect class="l" x="931" y="722" width="5.5" height="40"/><rect class="r" x="936" y="731" width="5.5" height="31"/><rect class="t" x="942" y="750" width="5.5" height="12"/>
<g class="xl">
<text x="771" y="767" transform="rotate(-55 771 767)">Dsoese</text><text x="785" y="767" transform="rotate(-55 785 767)">Dsoese</text><text x="799" y="767" transform="rotate(-55 799 767)">Dsoese</text><text x="813" y="767" transform="rotate(-55 813 767)">Dsoese</text><text x="827" y="767" transform="rotate(-55 827 767)">Dsoese</text><text x="841" y="767" transform="rotate(-55 841 767)">Dsoese</text><text x="855" y="767" transform="rotate(-55 855 767)">Dsoese</text><text x="869" y="767" transform="rotate(-55 869 767)">Dsoese</text><text x="883" y="767" transform="rotate(-55 883 767)">Dsoese</text><text x="897" y="767" transform="rotate(-55 897 767)">Dsoese</text><text x="911" y="767" transform="rotate(-55 911 767)">Dsoese</text><text x="925" y="767" transform="rotate(-55 925 767)">Dsoese</text><text x="939" y="767" transform="rotate(-55 939 767)">Dsoese</text><text x="952" y="767" transform="rotate(-55 952 767)">Dsoese</text>
</g>
<text class="ct" x="859" y="793">Pktsomigltisoe Tleoese</text>
</g>

<!-- C1R7 lines -->
<g>
<path class="gr" d="M303 807H480M303 818H480M303 830H480M303 842H480M303 853H480"/>
<path class="ax" d="M303 805V865H480"/>
<text class="yl" x="298" y="809">50</text><text class="yl" x="298" y="820">50</text><text class="yl" x="298" y="832">60</text><text class="yl" x="298" y="844">90</text><text class="yl" x="298" y="855">30</text><text class="yl" x="298" y="867">0</text>
<text class="yt" transform="rotate(-90 287 836)" x="287" y="836">Eoerscsoes</text>
<polyline class="sb" points="308,848 324,843 348,841 373,839 399,838 413,832 426,837 449,837 471,835 478,832"/>
<polyline class="sb" points="308,860 324,853 337,858 350,852 364,857 377,844 391,850 404,838 422,852 435,834 449,835 466,832 478,838"/>
<polyline class="st" points="308,852 337,848 373,843 399,840 422,839 449,839 466,843 478,835"/>
<polyline class="st" points="308,858 324,848 350,847 377,852 404,852 422,857"/>
<g fill="#3f7aa3"><circle cx="308" cy="860" r="1.2"/><circle cx="350" cy="852" r="1.2"/><circle cx="404" cy="838" r="1.2"/><circle cx="449" cy="835" r="1.2"/><circle cx="478" cy="838" r="1.3"/><circle cx="478" cy="832" r="1.3"/></g>
<g class="xn" style="font-style:italic">
<text x="308" y="873">AE8</text><text x="320" y="873">AEIT</text><text x="332" y="873">AE7</text><text x="345" y="873">AEB</text><text x="357" y="873">AIE</text><text x="369" y="873">A2E</text><text x="381" y="873">AEE</text><text x="393" y="873">AEIT</text><text x="406" y="873">AEE</text><text x="418" y="873">AEE</text><text x="430" y="873">AE7</text><text x="442" y="873">AE8</text>
</g>
<text class="ct" x="395" y="891" style="font-size:6.5px"><tspan fill="#24526f">■</tspan> Ddiao Etseeeo <tspan fill="#8b6a3e">■</tspan> Dosawe</text>
</g>

<!-- C2R7 bars -->
<g>
<path class="gr" d="M537 800H719M537 816H719M537 835H719M537 854H719"/>
<path class="ax" d="M537 798V868H719"/>
<text class="yl" x="532" y="802">28</text><text class="yl" x="532" y="818">80</text><text class="yl" x="532" y="837">60</text><text class="yl" x="532" y="856">40</text><text class="yl" x="532" y="870">0</text>
<text class="yt" transform="rotate(-90 524 835)" x="524" y="835">Flosrdosoe</text>
<rect class="r" x="541" y="832" width="5.5" height="36"/><rect class="b" x="547" y="837" width="5.5" height="31"/><rect class="t" x="552" y="851" width="5.5" height="17"/><rect class="n" x="560" y="853" width="5.5" height="15"/><rect class="g" x="566" y="821" width="5.5" height="47"/><rect class="l" x="571" y="838" width="5.5" height="30"/><rect class="t" x="576" y="863" width="5.5" height="5"/><rect class="r" x="582" y="847" width="5.5" height="21"/><rect class="r" x="589" y="852" width="5.5" height="16"/><rect class="b" x="595" y="845" width="5.5" height="23"/><rect class="t" x="601" y="849" width="5.5" height="19"/><rect class="r" x="608" y="856" width="5.5" height="12"/><rect class="b" x="615" y="839" width="5.5" height="29"/><rect class="b" x="621" y="848" width="5.5" height="20"/><rect class="t" x="627" y="841" width="5.5" height="27"/><rect class="b" x="633" y="826" width="5.5" height="42"/><rect class="r" x="641" y="861" width="5.5" height="7"/><rect class="r" x="646" y="849" width="5.5" height="19"/><rect class="b" x="650" y="823" width="5.5" height="45"/><rect class="r" x="658" y="845" width="5.5" height="23"/><rect class="b" x="665" y="838" width="5.5" height="30"/><rect class="r" x="670" y="836" width="5.5" height="32"/><rect class="l" x="675" y="814" width="5.5" height="54"/><rect class="r" x="681" y="827" width="5.5" height="41"/><rect class="r" x="685" y="845" width="5.5" height="23"/><rect class="b" x="691" y="847" width="5.5" height="21"/><rect class="r" x="699" y="836" width="5.5" height="32"/><rect class="t" x="704" y="831" width="5.5" height="37"/><rect class="b" x="709" y="847" width="5.5" height="21"/><rect class="r" x="714" y="831" width="5.5" height="37"/>
<g class="xl">
<text x="545" y="873" transform="rotate(-55 545 873)">Dsoese</text><text x="558" y="873" transform="rotate(-55 558 873)">Dsoese</text><text x="571" y="873" transform="rotate(-55 571 873)">Dsoese</text><text x="585" y="873" transform="rotate(-55 585 873)">Dsoese</text><text x="598" y="873" transform="rotate(-55 598 873)">Dsoese</text><text x="611" y="873" transform="rotate(-55 611 873)">Dsoese</text><text x="625" y="873" transform="rotate(-55 625 873)">Dsoese</text><text x="638" y="873" transform="rotate(-55 638 873)">Dsoese</text><text x="651" y="873" transform="rotate(-55 651 873)">Dsoese</text><text x="665" y="873" transform="rotate(-55 665 873)">Dsoese</text><text x="678" y="873" transform="rotate(-55 678 873)">Dsoese</text><text x="691" y="873" transform="rotate(-55 691 873)">Dsoese</text><text x="704" y="873" transform="rotate(-55 704 873)">Dsoese</text><text x="718" y="873" transform="rotate(-55 718 873)">Dsoese</text>
</g>
<text class="ct" x="625" y="895">Cisesoe Elscoe</text>
</g>

<!-- C3R7 bars -->
<g>
<path class="gr" d="M769 807H953M769 819H953M769 832H953M769 844H953M769 856H953"/>
<path class="ax" d="M769 805V868H953"/>
<text class="yl" x="764" y="809">200</text><text class="yl" x="764" y="821">800</text><text class="yl" x="764" y="834">600</text><text class="yl" x="764" y="846">400</text><text class="yl" x="764" y="858">300</text><text class="yl" x="764" y="870">0</text>
<text class="yt" transform="rotate(-90 756 835)" x="756" y="835">Eoerscsoes</text>
<rect class="r" x="769" y="844" width="5.5" height="24"/><rect class="l" x="775" y="834" width="5.5" height="34"/><rect class="r" x="780" y="828" width="5.5" height="40"/><rect class="b" x="788" y="845" width="5.5" height="23"/><rect class="r" x="795" y="847" width="5.5" height="21"/><rect class="b" x="801" y="846" width="5.5" height="22"/><rect class="r" x="808" y="844" width="5.5" height="24"/><rect class="l" x="810" y="829" width="5.5" height="39"/><rect class="t" x="814" y="818" width="5.5" height="50"/><rect class="r" x="821" y="849" width="5.5" height="19"/><rect class="b" x="828" y="819" width="5.5" height="49"/><rect class="r" x="836" y="851" width="5.5" height="17"/><rect class="r" x="842" y="830" width="5.5" height="38"/><rect class="b" x="849" y="843" width="5.5" height="25"/><rect class="r" x="855" y="830" width="5.5" height="38"/><rect class="r" x="861" y="821" width="5.5" height="47"/><rect class="b" x="868" y="843" width="5.5" height="25"/><rect class="r" x="875" y="828" width="5.5" height="40"/><rect class="r" x="882" y="836" width="5.5" height="32"/><rect class="b" x="888" y="839" width="5.5" height="29"/><rect class="t" x="895" y="813" width="5.5" height="55"/><rect class="r" x="902" y="838" width="5.5" height="30"/><rect class="r" x="907" y="804" width="5.5" height="64"/><rect class="b" x="915" y="821" width="5.5" height="47"/><rect class="r" x="921" y="820" width="5.5" height="48"/><rect class="r" x="927" y="819" width="5.5" height="49"/><rect class="b" x="935" y="811" width="5.5" height="57"/><rect class="r" x="944" y="806" width="5.5" height="62"/>
<g class="xl">
<text x="777" y="873" transform="rotate(-55 777 873)">Dsoese</text><text x="790" y="873" transform="rotate(-55 790 873)">Dsoese</text><text x="804" y="873" transform="rotate(-55 804 873)">Dsoese</text><text x="817" y="873" transform="rotate(-55 817 873)">Dsoese</text><text x="831" y="873" transform="rotate(-55 831 873)">Dsoese</text><text x="844" y="873" transform="rotate(-55 844 873)">Dsoese</text><text x="858" y="873" transform="rotate(-55 858 873)">Dsoese</text><text x="871" y="873" transform="rotate(-55 871 873)">Dsoese</text><text x="885" y="873" transform="rotate(-55 885 873)">Dsoese</text><text x="898" y="873" transform="rotate(-55 898 873)">Dsoese</text><text x="912" y="873" transform="rotate(-55 912 873)">Dsoese</text><text x="925" y="873" transform="rotate(-55 925 873)">Dsoese</text><text x="939" y="873" transform="rotate(-55 939 873)">Dsoese</text><text x="952" y="873" transform="rotate(-55 952 873)">Dsoese</text>
</g>
<text class="ct" x="859" y="896">Pnosaes Ihoeioe</text>
</g>

<!-- C1R8 area -->
<g>
<path class="gr" d="M301 908H480M301 918H480M301 926H480M301 934H480M301 943H480M301 952H480M301 961H480"/>
<path class="ax" d="M301 906V968H480"/>
<text class="yl" x="296" y="910">180</text><text class="yl" x="296" y="920">880</text><text class="yl" x="296" y="928">880</text><text class="yl" x="296" y="936">600</text><text class="yl" x="296" y="945">400</text><text class="yl" x="296" y="954">800</text><text class="yl" x="296" y="963">100</text><text class="yl" x="296" y="970">0</text>
<text class="yt" transform="rotate(-90 284 937)" x="284" y="937">Eoerscsoes</text>
<polygon fill="#c6a76b" points="303,968 312,961 321,959 337,962 350,961 382,961 399,960 408,962 417,958 426,954 435,960 444,958 453,961 460,956 469,961 480,965 480,968"/>
<polygon fill="#a5875a" points="303,968 315,965 340,966 380,965 420,964 460,963 480,966 480,968"/>
<polygon fill="#2f6d96" points="405,964 415,961 424,953 432,960 438,961 444,957 450,962 455,964"/>
<polygon fill="#8b6a3e" points="450,964 460,955 470,962 475,964"/>
<g class="xl">
<text x="310" y="972" transform="rotate(-55 310 972)">Dsoe</text><text x="324" y="972" transform="rotate(-55 324 972)">Dsoe</text><text x="338" y="972" transform="rotate(-55 338 972)">Dsoe</text><text x="352" y="972" transform="rotate(-55 352 972)">Dsoe</text><text x="365" y="972" transform="rotate(-55 365 972)">Dsoe</text><text x="379" y="972" transform="rotate(-55 379 972)">Dsoe</text><text x="393" y="972" transform="rotate(-55 393 972)">Dsoe</text><text x="407" y="972" transform="rotate(-55 407 972)">Dsoe</text><text x="421" y="972" transform="rotate(-55 421 972)">Dsoe</text><text x="434" y="972" transform="rotate(-55 434 972)">Dsoe</text><text x="448" y="972" transform="rotate(-55 448 972)">Dsoe</text><text x="462" y="972" transform="rotate(-55 462 972)">Dsoe</text><text x="476" y="972" transform="rotate(-55 476 972)">Dsoe</text>
</g>
<text class="ct" x="390" y="990" style="font-size:6.5px">◂ Ensuuit Reses &amp; Dtsoese</text>
</g>

<!-- C2R8 bars -->
<g>
<path class="gr" d="M536 907H719M536 920H719M536 933H719M536 946H719M536 958H719"/>
<path class="ax" d="M536 905V969H719"/>
<text class="yl" x="531" y="909">20</text><text class="yl" x="531" y="922">80</text><text class="yl" x="531" y="935">60</text><text class="yl" x="531" y="948">40</text><text class="yl" x="531" y="960">20</text><text class="yl" x="531" y="971">0</text>
<text class="yt" transform="rotate(-90 523 938)" x="523" y="938">Flosrdosoe</text>
<rect class="b" x="537" y="952" width="5.5" height="17"/><rect class="r" x="540" y="944" width="5.5" height="25"/><rect class="b" x="547" y="951" width="5.5" height="18"/><rect class="t" x="550" y="934" width="5.5" height="35"/><rect class="t" x="554" y="934" width="5.5" height="35"/><rect class="r" x="562" y="948" width="5.5" height="21"/><rect class="b" x="568" y="950" width="5.5" height="19"/><rect class="r" x="574" y="947" width="5.5" height="22"/><rect class="t" x="578" y="952" width="5.5" height="17"/><rect class="b" x="584" y="946" width="5.5" height="23"/><rect class="b" x="588" y="937" width="5.5" height="32"/><rect class="b" x="596" y="948" width="5.5" height="21"/><rect class="r" x="601" y="940" width="5.5" height="29"/><rect class="r" x="609" y="944" width="5.5" height="25"/><rect class="b" x="615" y="909" width="5.5" height="60"/><rect class="n" x="620" y="946" width="5.5" height="23"/><rect class="r" x="623" y="939" width="5.5" height="30"/><rect class="t" x="632" y="922" width="5.5" height="47"/><rect class="t" x="639" y="953" width="5.5" height="16"/><rect class="b" x="644" y="954" width="5.5" height="15"/><rect class="r" x="649" y="924" width="5.5" height="45"/><rect class="r" x="653" y="937" width="5.5" height="32"/><rect class="r" x="658" y="941" width="5.5" height="28"/><rect class="b" x="665" y="930" width="5.5" height="39"/><rect class="r" x="671" y="934" width="5.5" height="35"/><rect class="t" x="677" y="927" width="5.5" height="42"/><rect class="b" x="683" y="939" width="5.5" height="30"/><rect class="b" x="688" y="914" width="5.5" height="55"/><rect class="r" x="693" y="925" width="5.5" height="44"/><rect class="b" x="699" y="932" width="5.5" height="37"/><rect class="r" x="707" y="913" width="5.5" height="56"/><rect class="b" x="713" y="903" width="5.5" height="66"/>
<g class="xl">
<text x="542" y="974" transform="rotate(-55 542 974)">Dsoese</text><text x="555" y="974" transform="rotate(-55 555 974)">Dsoese</text><text x="569" y="974" transform="rotate(-55 569 974)">Dsoese</text><text x="582" y="974" transform="rotate(-55 582 974)">Dsoese</text><text x="596" y="974" transform="rotate(-55 596 974)">Dsoese</text><text x="609" y="974" transform="rotate(-55 609 974)">Dsoese</text><text x="623" y="974" transform="rotate(-55 623 974)">Dsoese</text><text x="636" y="974" transform="rotate(-55 636 974)">Dsoese</text><text x="650" y="974" transform="rotate(-55 650 974)">Dsoese</text><text x="663" y="974" transform="rotate(-55 663 974)">Dsoese</text><text x="677" y="974" transform="rotate(-55 677 974)">Dsoese</text><text x="690" y="974" transform="rotate(-55 690 974)">Dsoese</text><text x="704" y="974" transform="rotate(-55 704 974)">Dsoese</text><text x="717" y="974" transform="rotate(-55 717 974)">Dsoese</text>
</g>
<text class="ct" x="625" y="999" style="font-size:8.5px">Plsto Hosos</text>
</g>

<!-- C3R8 bars -->
<g>
<path class="gr" d="M769 906H953M769 919H953M769 932H953M769 944H953M769 956H953"/>
<path class="ax" d="M769 904V968H953"/>
<text class="yl" x="764" y="908">220</text><text class="yl" x="764" y="921">200</text><text class="yl" x="764" y="934">200</text><text class="yl" x="764" y="946">200</text><text class="yl" x="764" y="958">100</text><text class="yl" x="764" y="970">0</text>
<text class="yt" transform="rotate(-90 756 937)" x="756" y="937">Eoerscsoes</text>
<rect class="r" x="769" y="918" width="5.5" height="50"/><rect class="t" x="776" y="944" width="5.5" height="24"/><rect class="b" x="783" y="929" width="5.5" height="39"/><rect class="r" x="790" y="939" width="5.5" height="29"/><rect class="t" x="797" y="947" width="5.5" height="21"/><rect class="b" x="803" y="929" width="5.5" height="39"/><rect class="r" x="810" y="948" width="5.5" height="20"/><rect class="r" x="816" y="960" width="5.5" height="8"/><rect class="b" x="822" y="948" width="5.5" height="20"/><rect class="t" x="827" y="948" width="5.5" height="20"/><rect class="t" x="833" y="950" width="5.5" height="18"/><rect class="b" x="840" y="919" width="5.5" height="49"/><rect class="r" x="847" y="932" width="5.5" height="36"/><rect class="b" x="854" y="907" width="5.5" height="61"/><rect class="r" x="860" y="909" width="5.5" height="59"/><rect class="r" x="866" y="926" width="5.5" height="42"/><rect class="t" x="873" y="943" width="5.5" height="25"/><rect class="b" x="879" y="925" width="5.5" height="43"/><rect class="r" x="885" y="934" width="5.5" height="34"/><rect class="r" x="891" y="947" width="5.5" height="21"/><rect class="b" x="899" y="932" width="5.5" height="36"/><rect class="r" x="905" y="958" width="5.5" height="10"/><rect class="l" x="911" y="950" width="5.5" height="18"/><rect class="r" x="917" y="946" width="5.5" height="22"/><rect class="b" x="924" y="957" width="5.5" height="11"/><rect class="r" x="930" y="938" width="5.5" height="30"/><rect class="b" x="937" y="947" width="5.5" height="21"/><rect class="r" x="943" y="937" width="5.5" height="31"/>
<g class="xl">
<text x="777" y="973" transform="rotate(-55 777 973)">Dsoeese</text><text x="790" y="973" transform="rotate(-55 790 973)">Dsoeese</text><text x="804" y="973" transform="rotate(-55 804 973)">Dsoeese</text><text x="817" y="973" transform="rotate(-55 817 973)">Dsoeese</text><text x="831" y="973" transform="rotate(-55 831 973)">Dsoeese</text><text x="844" y="973" transform="rotate(-55 844 973)">Dsoeese</text><text x="858" y="973" transform="rotate(-55 858 973)">Dsoeese</text><text x="871" y="973" transform="rotate(-55 871 973)">Dsoeese</text><text x="885" y="973" transform="rotate(-55 885 973)">Dsoeese</text><text x="898" y="973" transform="rotate(-55 898 973)">Dsoeese</text><text x="912" y="973" transform="rotate(-55 912 973)">Dsoeese</text><text x="925" y="973" transform="rotate(-55 925 973)">Dsoeese</text><text x="939" y="973" transform="rotate(-55 939 973)">Dsoeese</text><text x="952" y="973" transform="rotate(-55 952 973)">Dsoeese</text>
</g>
<text class="ct" x="859" y="998">Pdoiase Eiosoue Ddeasese</text>
</g>

</svg>
</body></html>
